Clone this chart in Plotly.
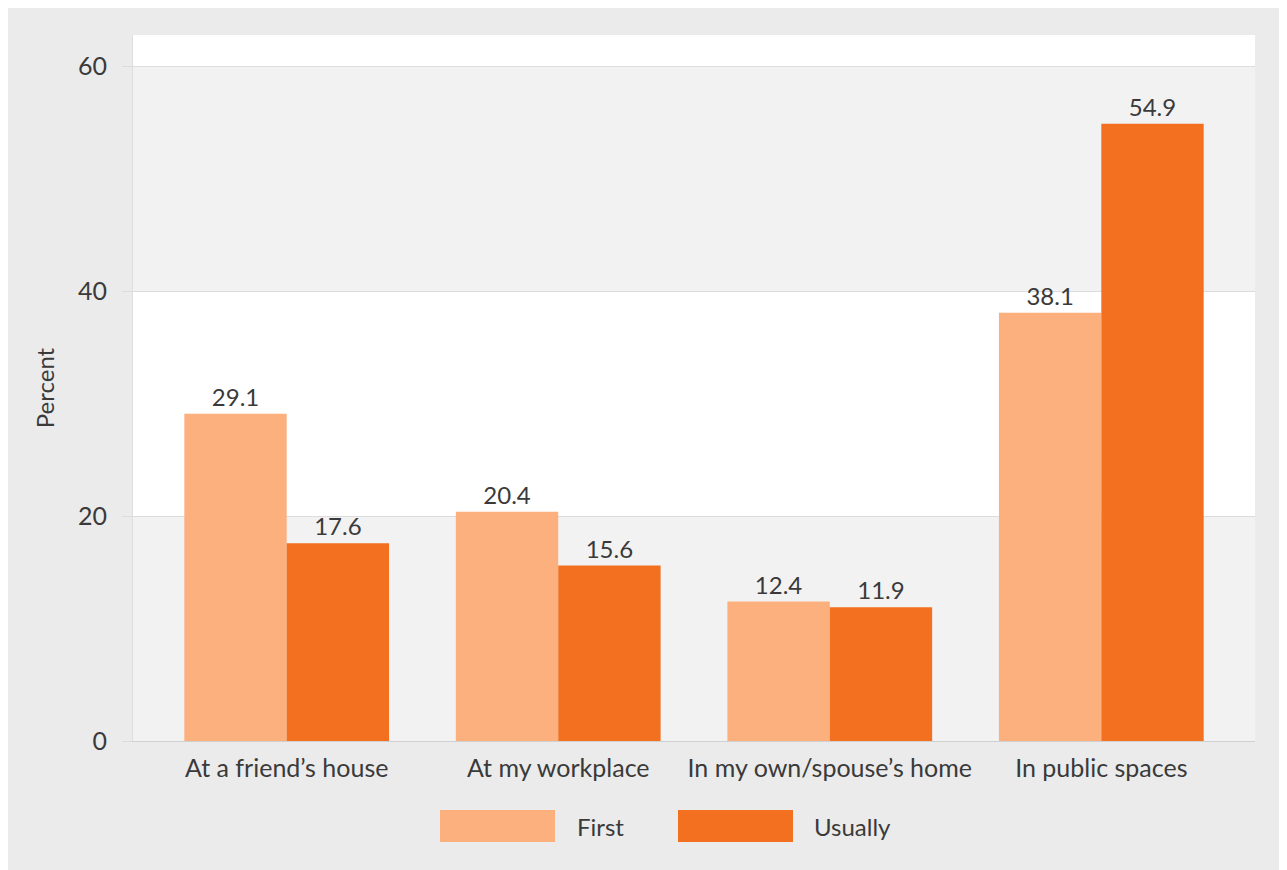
import plotly.graph_objects as go

categories = ["At a friend\u2019s house", "At my workplace", "In my own/spouse\u2019s home", "In public spaces"]
first_vals = [29.1, 20.4, 12.4, 38.1]
usually_vals = [17.6, 15.6, 11.9, 54.9]
series_names = ["First", "Usually"]
y_ticks = [0, 20, 40, 60]

c_first = "#fbb07e"
c_usual = "#f37021"
font_family = "Lato, Open Sans, sans-serif"
txt_color = "#3a3a3a"

OFF = 8  # page body margin
W, H = 1287 - OFF, 870 - OFF
ml, mr, mt, mb = 133 - OFF, 32, 35 - OFF, 129
pw, ph = W - ml - mr, H - mt - mb

fig = go.Figure()
for name, vals, col in [(series_names[0], first_vals, c_first), (series_names[1], usually_vals, c_usual)]:
    fig.add_trace(go.Bar(
        name=name, x=categories, y=vals, marker=dict(color=col, line=dict(width=0)),
        text=[f"{v:.1f}" for v in vals], textposition="outside",
        textfont=dict(size=24, color=txt_color, family=font_family),
        cliponaxis=False, showlegend=False,
    ))

shapes = []
ymax = 62.8
bounds = y_ticks + [ymax]
for i in range(len(bounds) - 1):
    shapes.append(dict(type="rect", xref="paper", yref="y", x0=0, x1=1, y0=bounds[i], y1=bounds[i + 1],
                       fillcolor="#f2f2f2" if i % 2 == 0 else "#ffffff", line=dict(width=0), layer="below"))

def px_x(x):
    return (x - OFF - ml) / pw

def px_y(y):
    return (H - mb - (y - OFF)) / ph

leg_cy = 826
legend_items = [(series_names[0], c_first, 440, 575), (series_names[1], c_usual, 678, 812)]
annotations = []
for name, col, sx, tx in legend_items:
    shapes.append(dict(type="rect", xref="paper", yref="paper",
                       x0=px_x(sx), x1=px_x(sx + 115),
                       y0=px_y(leg_cy + 16), y1=px_y(leg_cy - 16),
                       fillcolor=col, line=dict(width=0)))
    annotations.append(dict(xref="paper", yref="paper", x=px_x(tx), y=px_y(leg_cy), text=name,
                            showarrow=False, xanchor="left", yanchor="middle",
                            font=dict(size=24, color=txt_color, family=font_family)))

fig.update_layout(
    width=W, height=H,
    margin=dict(l=ml, r=mr, t=mt, b=mb),
    paper_bgcolor="#ebebeb", plot_bgcolor="rgba(0,0,0,0)",
    barmode="group", bargap=0.246, bargroupgap=0,
    font=dict(family=font_family, color=txt_color, size=24),
    shapes=shapes, annotations=annotations,
    showlegend=False,
)
fig.update_xaxes(range=[-0.566, 3.566], tickfont=dict(size=25), showline=True, linecolor="#d0d0d0",
                 linewidth=1, ticks="", showgrid=False, ticklabelstandoff=5)
fig.update_yaxes(range=[0, ymax], tickvals=y_ticks, tickfont=dict(size=25), showgrid=True,
                 gridcolor="#dcdcdc", gridwidth=1, zeroline=False, ticks="outside", ticklen=10,
                 tickcolor="#dcdcdc", ticklabelstandoff=10, showline=True, linecolor="#dedede",
                 title=dict(text="Percent", font=dict(size=24), standoff=16))

fig.write_html("out.html")
